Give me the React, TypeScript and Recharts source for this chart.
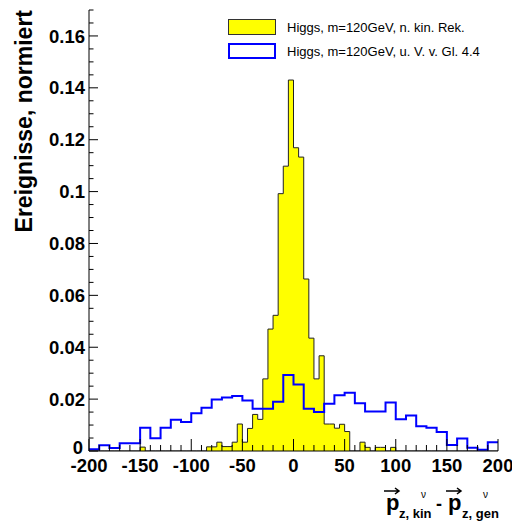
import { Area, ComposedChart, Legend, Line, XAxis, YAxis } from "recharts"

// bin edges and histogram contents (normalised)
const binStart = -200
const kinRekWidth = 5
const kinRek = [
  0, 0, 0, 0, 0, 0, 0, 0, 0, 0,
  0.0015,
  0, 0, 0, 0, 0, 0, 0, 0, 0, 0, 0, 0,
  0.0016, 0.0016, 0.0034, 0.0017, 0.0017, 0.0034, 0.0104, 0.0034, 0.0087, 0.0141,
  0.0122, 0.0278, 0.047, 0.0523, 0.0992, 0.1098, 0.143, 0.1169, 0.1133, 0.0663,
  0.0435, 0.0278, 0.0367, 0.0104, 0.0104, 0.0088, 0.0103, 0.0075, 0, 0,
  0.0034, 0.0014, 0, 0.0014, 0.0014, 0, 0.0014,
  0, 0, 0, 0, 0, 0, 0, 0, 0, 0, 0, 0, 0, 0, 0, 0, 0, 0, 0, 0,
]
const gl44Width = 10
const gl44 = [
  0.0007, 0.0022, 0.0012, 0.003, 0.003, 0.009, 0.0049, 0.009, 0.012, 0.0112,
  0.0146, 0.0167, 0.0199, 0.0206, 0.0212, 0.0195, 0.0163, 0.0163, 0.019, 0.0293,
  0.0256, 0.0163, 0.015, 0.0182, 0.0215, 0.0225, 0.0184, 0.0152, 0.0152, 0.0187,
  0.0122, 0.0137, 0.0095, 0.009, 0.0073, 0.0023, 0.0048, 0.0013, 0.0005, 0.0034,
]

const xMajorTicks = [-200, -150, -100, -50, 0, 50, 100, 150, 200]
const xMinorStep = 10
const yMajorTicks = [0, 0.02, 0.04, 0.06, 0.08, 0.1, 0.12, 0.14, 0.16]
const yTickLabels = ["0", "0.02", "0.04", "0.06", "0.08", "0.1", "0.12", "0.14", "0.16"]
const yMinorStep = 0.005

const seriesNames = ["Higgs, m=120GeV, n. kin. Rek.", "Higgs, m=120GeV, u. V. v. Gl. 4.4"]

const font = "'Liberation Sans', Arial, Helvetica, sans-serif"

function toSteps(values: number[], width: number) {
  const pts = values.map((v, i) => ({ x: binStart + i * width, y: v }))
  pts.push({ x: binStart + values.length * width, y: values[values.length - 1] })
  return pts
}

const xTicks: number[] = []
for (let v = -200; v <= 200; v += xMinorStep) xTicks.push(v)
const yTicks: number[] = []
for (let i = 0; i * yMinorStep <= 0.1701; i++) yTicks.push(Math.round(i * yMinorStep * 1000) / 1000)

function XTick({ x, y, payload }: any) {
  const major = xMajorTicks.includes(payload.value)
  return (
    <g>
      <line x1={x} x2={x} y1={y} y2={y - (major ? 12 : 6)} stroke="#000" />
      {major && (
        <text x={x} y={y + 21} textAnchor="middle" fontFamily={font} fontWeight="bold" fontSize={18.5} fill="#000">
          {payload.value}
        </text>
      )}
    </g>
  )
}

function YTick({ x, y, payload }: any) {
  const idx = yMajorTicks.findIndex((t) => Math.abs(t - payload.value) < 1e-6)
  const major = idx >= 0
  // the "0" label sits a little higher so it clears the x labels
  const dy = idx === 0 ? 3 : 6.6
  return (
    <g>
      <line x1={x} x2={x + (major ? 9 : 4.5)} y1={y} y2={y} stroke="#000" />
      {major && (
        <text x={x - (idx === 0 ? 6 : 4)} y={y + dy} textAnchor="end" fontFamily={font} fontWeight="bold" fontSize={18.5} fill="#000">
          {yTickLabels[idx]}
        </text>
      )}
    </g>
  )
}

function LegendBox() {
  const row = (name: string, box: React.CSSProperties) => (
    <div style={{ display: "flex", alignItems: "center", height: 24 }}>
      <div style={{ width: 48, height: 16, boxSizing: "border-box", ...box }} />
      <span style={{ marginLeft: 11, fontFamily: font, fontSize: 13, color: "#000", whiteSpace: "nowrap" }}>{name}</span>
    </div>
  )
  return (
    <div>
      {row(seriesNames[0], { background: "#ffff00", border: "1px solid #333" })}
      {row(seriesNames[1], { background: "#fff", border: "2px solid #0000ff" })}
    </div>
  )
}

function XTitle() {
  const arrow = (x: number) => `M${x} 491 L${x + 15} 491 M${x + 11} 488 L${x + 15} 491 L${x + 11} 494`
  return (
    <g fontFamily={font} fill="#000">
      <path d={arrow(384)} stroke="#000" strokeWidth={1.5} fill="none" />
      <text x={386} y={510} fontSize={22} fontWeight="bold">p</text>
      <text x={421} y={498} fontSize={10}>ν</text>
      <text x={399} y={518} fontSize={13} fontWeight="bold">z, kin</text>
      <text x={436} y={510} fontSize={18} fontWeight="bold">-</text>
      <path d={arrow(446)} stroke="#000" strokeWidth={1.5} fill="none" />
      <text x={448} y={510} fontSize={22} fontWeight="bold">p</text>
      <text x={483} y={498} fontSize={10}>ν</text>
      <text x={462} y={518} fontSize={13} fontWeight="bold">z, gen</text>
    </g>
  )
}

function YTitle() {
  return (
    <text
      transform="translate(32,10) rotate(-90)"
      textAnchor="end"
      fontFamily={font}
      fontWeight="bold"
      fontSize={23}
      fill="#000"
    >
      Ereignisse, normiert
    </text>
  )
}

export default function App() {
  const kinData = toSteps(kinRek, kinRekWidth)
  const glData = toSteps(gl44, gl44Width)
  return (
    <div style={{ position: "absolute", left: 0, top: 0, width: 512, height: 523, background: "#fff" }}>
      <ComposedChart width={512} height={523} margin={{ top: 10, right: 14, bottom: 0, left: 0 }}>
        <XAxis
          dataKey="x"
          type="number"
          domain={[-200, 200]}
          allowDataOverflow
          ticks={xTicks}
          interval={0}
          tick={<XTick />}
          tickLine={false}
          tickSize={0}
          tickMargin={0}
          height={72}
          axisLine={{ stroke: "#000" }}
          label={<XTitle />}
        />
        <XAxis xAxisId="top" orientation="top" type="number" domain={[-200, 200]} height={0} tick={false} tickLine={false} axisLine={{ stroke: "#000" }} />
        <YAxis
          type="number"
          domain={[0, 0.17]}
          allowDataOverflow
          ticks={yTicks}
          interval={0}
          tick={<YTick />}
          tickLine={false}
          tickSize={0}
          tickMargin={0}
          width={89}
          axisLine={{ stroke: "#000" }}
          label={<YTitle />}
        />
        <YAxis yAxisId="right" orientation="right" type="number" domain={[0, 0.17]} width={0} tick={false} tickLine={false} axisLine={{ stroke: "#000" }} />
        <Area
          data={kinData}
          dataKey="y"
          type="stepAfter"
          fill="#ffff00"
          fillOpacity={1}
          stroke="#222"
          strokeWidth={1}
          isAnimationActive={false}
          dot={false}
          activeDot={false}
        />
        <Line
          data={glData}
          dataKey="y"
          type="stepAfter"
          stroke="#0000ff"
          strokeWidth={2}
          dot={false}
          activeDot={false}
          isAnimationActive={false}
        />
        <Legend
          layout="vertical"
          align="center"
          verticalAlign="middle"
          content={<LegendBox />}
          wrapperStyle={{ position: "absolute", left: 228, top: 15, width: 280, height: 48 }}
        />
      </ComposedChart>
    </div>
  )
}
